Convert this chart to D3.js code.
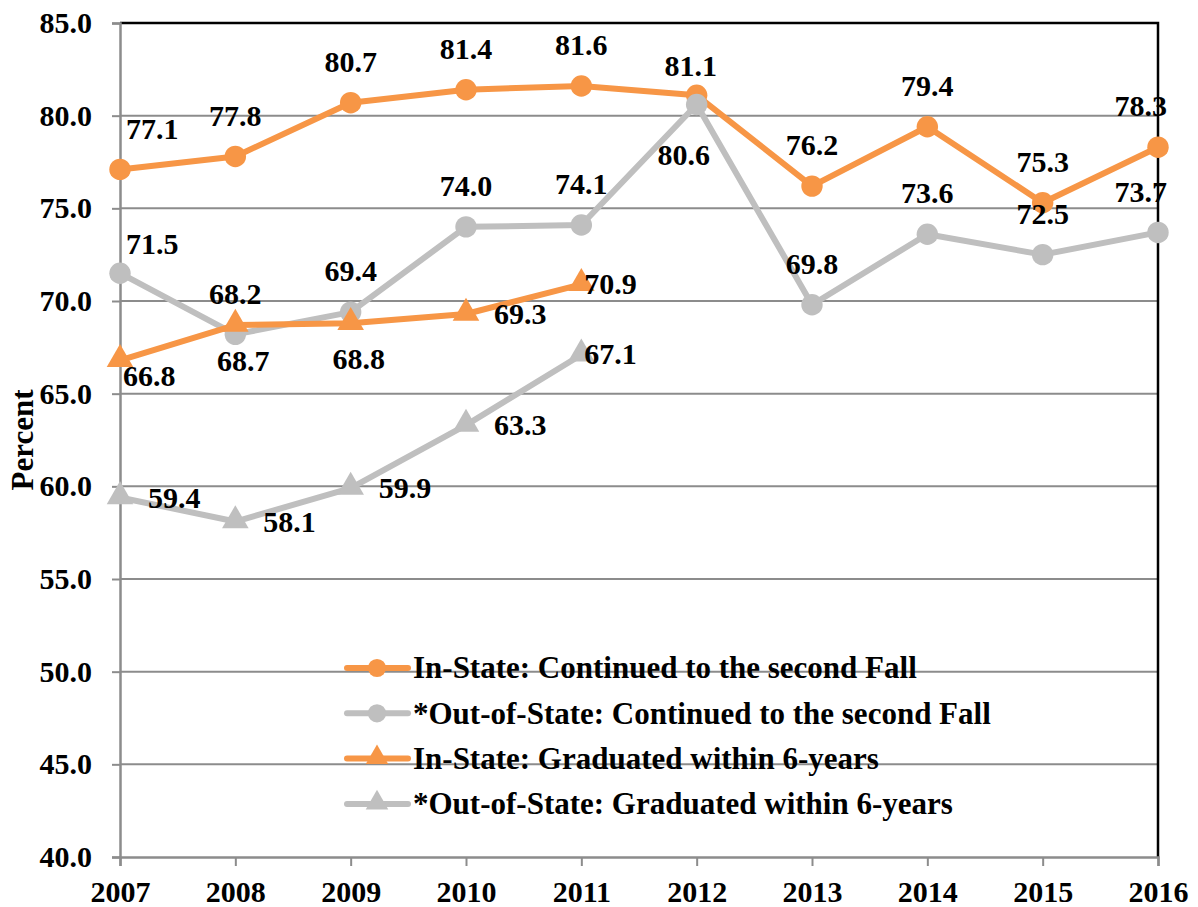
<!DOCTYPE html>
<html>
<head>
<meta charset="utf-8">
<script src="https://cdn.jsdelivr.net/npm/d3@7"></script>
<style>
  body { margin: 0; background: #fff; }
  svg { display: block; }
  text { font-family: "Liberation Serif", "Times New Roman", serif; font-weight: bold; fill: #000; }
</style>
</head>
<body>
<div id="chart"></div>
<script>
// years and series values
const years = [2007, 2008, 2009, 2010, 2011, 2012, 2013, 2014, 2015, 2016];
const gradYears = [2007, 2008, 2009, 2010, 2011];

const inStateContinued = [77.1, 77.8, 80.7, 81.4, 81.6, 81.1, 76.2, 79.4, 75.3, 78.3];
const outStateContinued = [71.5, 68.2, 69.4, 74.0, 74.1, 80.6, 69.8, 73.6, 72.5, 73.7];
const inStateGraduated = [66.8, 68.7, 68.8, 69.3, 70.9];
const outStateGraduated = [59.4, 58.1, 59.9, 63.3, 67.1];

const seriesNames = [
    'In-State: Continued to the second Fall',
    '*Out-of-State: Continued to the second Fall',
    'In-State: Graduated within 6-years',
    '*Out-of-State: Graduated within 6-years'
];

const yTicks = [40, 45, 50, 55, 60, 65, 70, 75, 80, 85];

// where each data label sits: a = above, an = above (near), b = below, r = right, ...
const labelPlacement = [
    ['a', 'a', 'a', 'a', 'a', 'an', 'a', 'a', 'a', 'a'],
    ['an', 'a', 'a', 'a', 'a', 'bl', 'a', 'a', 'a', 'a'],
    ['rb', 'b', 'b', 'r', 'rt'],
    ['r', 'r', 'r', 'r', 'rt']
];

const ORANGE = '#f79646';
const GRAY = '#bfbfbf';

const series = [
    { name: seriesNames[0], x: years, values: inStateContinued, color: ORANGE, marker: 'circle', pos: labelPlacement[0] },
    { name: seriesNames[1], x: years, values: outStateContinued, color: GRAY, marker: 'circle', pos: labelPlacement[1] },
    { name: seriesNames[2], x: gradYears, values: inStateGraduated, color: ORANGE, marker: 'triangle', pos: labelPlacement[2] },
    { name: seriesNames[3], x: gradYears, values: outStateGraduated, color: GRAY, marker: 'triangle', pos: labelPlacement[3] }
];

const width = 1198;
const height = 907;
const margin = { t: 23, r: 40, b: 50, l: 120 };
const w = width - margin.l - margin.r;
const h = height - margin.t - margin.b;

const svg = d3.select('#chart').append('svg')
    .attr('width', width)
    .attr('height', height);

const plot = svg.append('g')
    .attr('transform', `translate(${margin.l},${margin.t})`);

const scaleX = d3.scaleLinear()
    .domain([years[0], years[years.length - 1]])
    .range([0, w]);

const scaleY = d3.scaleLinear()
    .domain([40, 85])
    .range([h, 0]);

// gridlines
plot.append('g').attr('class', 'grid')
    .selectAll('line')
    .data(yTicks.filter(d => d > 40 && d < 85))
    .enter().append('line')
    .attr('x1', 0).attr('x2', w)
    .attr('y1', d => scaleY(d)).attr('y2', d => scaleY(d))
    .attr('stroke', '#8c8c8c')
    .attr('stroke-width', 2);

// top and right border
plot.append('path')
    .attr('d', `M0,${scaleY(85)}H${w}V${h}`)
    .attr('fill', 'none')
    .attr('stroke', '#000')
    .attr('stroke-width', 2.5);

const axisY = d3.axisLeft(scaleY)
    .tickValues(yTicks)
    .tickFormat(d3.format('.1f'))
    .tickSize(8)
    .tickPadding(20);

const axisX = d3.axisBottom(scaleX)
    .tickValues(years)
    .tickFormat(d3.format('d'))
    .tickSize(9)
    .tickPadding(15);

const axisYNode = plot.append('g').attr('class', 'axis axis-y').call(axisY);
const axisXNode = plot.append('g').attr('class', 'axis axis-x')
    .attr('transform', `translate(0,${h})`)
    .call(axisX);

[axisYNode, axisXNode].forEach(a => {
    a.select('.domain').attr('stroke', '#8c8c8c').attr('stroke-width', 2.5);
    a.selectAll('.tick line').attr('stroke', '#8c8c8c').attr('stroke-width', 2);
    a.selectAll('text').attr('font-size', 30).style('font-family', '"Liberation Serif", serif').style('font-weight', 'bold');
});

svg.append('text')
    .attr('transform', `translate(33,${margin.t + scaleY(62.5)}) rotate(-90)`)
    .attr('text-anchor', 'middle')
    .attr('font-size', 31)
    .text('Percent');

// legend (no background, gridlines show through)
const legend = svg.append('g').attr('class', 'legend')
    .attr('transform', 'translate(347,668)');

const legendItems = legend.selectAll('g')
    .data(series)
    .enter().append('g')
    .attr('transform', (d, i) => `translate(0,${i * 45.3})`);

legendItems.append('line')
    .attr('x1', 0).attr('x2', 61)
    .attr('stroke', d => d.color)
    .attr('stroke-width', 6)
    .attr('stroke-linecap', 'round');

function drawMarker(sel, size) {
    sel.each(function(d) {
        const g = d3.select(this);
        const m = d.marker || d.s.marker;
        const c = d.color || d.s.color;
        const sym = m === 'circle' ? d3.symbolCircle : d3.symbolTriangle;
        g.append('path')
            .attr('d', d3.symbol().type(sym).size(m === 'circle' ? size : size * 0.85)())
            .attr('transform', m === 'circle' ? null : 'translate(0,-1)')
            .attr('fill', c);
    });
}

legendItems.append('g')
    .attr('transform', 'translate(30,0)')
    .call(drawMarker, 260);

legendItems.append('text')
    .attr('x', 66)
    .attr('dy', '0.33em')
    .attr('font-size', 31)
    .text(d => d.name);

// lines and markers
const line = d3.line()
    .x(d => scaleX(d.year))
    .y(d => scaleY(d.value));

series.forEach(s => {
    s.points = s.values.map((v, i) => ({ year: s.x[i], value: v, pos: s.pos[i], s: s }));
});

const seriesG = plot.selectAll('.series')
    .data(series)
    .enter().append('g')
    .attr('class', 'series');

seriesG.append('path')
    .attr('d', d => line(d.points))
    .attr('fill', 'none')
    .attr('stroke', d => d.color)
    .attr('stroke-width', 6)
    .attr('stroke-linejoin', 'round');

seriesG.selectAll('.marker')
    .data(d => d.points)
    .enter().append('g')
    .attr('class', 'marker')
    .attr('transform', d => `translate(${scaleX(d.year)},${scaleY(d.value)})`)
    .call(drawMarker, 360);

// data labels
const offsets = {
    a: { dx: 0, dy: -41, anchor: 'middle' },
    an: { dx: -6, dy: -29, anchor: 'middle' },
    b: { dx: 8, dy: 36, anchor: 'middle' },
    bl: { dx: -13, dy: 50, anchor: 'middle' },
    r: { dx: 28, dy: 0, anchor: 'start' },
    rt: { dx: 3, dy: -1, anchor: 'start' },
    rb: { dx: 3, dy: 15, anchor: 'start' }
};

const labels = plot.append('g').attr('class', 'labels');
series.forEach(s => {
    s.points.forEach(p => {
        const o = offsets[p.pos];
        const t = labels.append('text')
            .attr('font-size', 30)
            .attr('text-anchor', o.anchor)
            .attr('dy', '0.34em')
            .attr('y', scaleY(p.value) + o.dy)
            .text(d3.format('.1f')(p.value));
        let x = scaleX(p.year) + o.dx;
        if (o.anchor === 'middle') {
            const half = t.node().getComputedTextLength() / 2;
            x = Math.max(x, half + 6);
            x = Math.min(x, w + 9 - half);
        }
        t.attr('x', x);
    });
});
</script>
</body>
</html>
